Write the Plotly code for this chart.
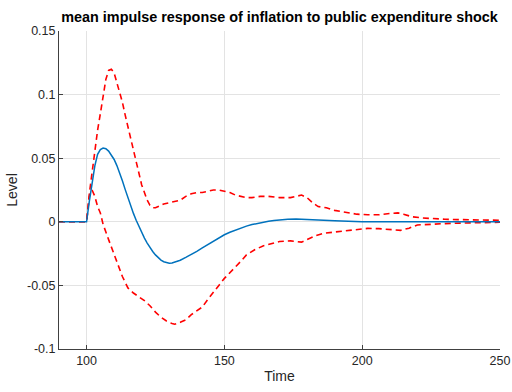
import plotly.graph_objects as go

# Horizon (periods) and impulse responses
time_mean = [90, 100, 101, 102, 103, 104, 105, 106, 107, 108, 109, 110, 111, 112, 113, 114, 115,
             116, 117, 118, 119, 120, 121, 122, 123, 124, 125, 126, 127, 128, 129, 130, 131,
             132, 134, 136, 138, 140, 142, 144, 146, 148, 150, 152, 154, 156, 158, 160, 162,
             164, 166, 168, 170, 173, 176, 179, 182, 186, 190, 195, 200, 250]
mean_irf = [0, 0, 0.016, 0.031, 0.044, 0.053, 0.0568, 0.058, 0.0575, 0.0556, 0.0527, 0.049,
            0.0442, 0.0386, 0.0322, 0.0255, 0.0188, 0.0124, 0.0066, 0.0012, -0.0038, -0.0085,
            -0.0128, -0.0167, -0.0202, -0.0233, -0.026, -0.0283, -0.0301, -0.0314, -0.0322,
            -0.0325, -0.0323, -0.0318, -0.0302, -0.028, -0.0258, -0.0232, -0.0205, -0.0178,
            -0.015, -0.0125, -0.0102, -0.0082, -0.0064, -0.0048, -0.0034, -0.0022, -0.0012,
            -0.0004, 0.0004, 0.001, 0.0015, 0.002, 0.0022, 0.0021, 0.0018, 0.0013, 0.0008,
            0.0003, 0.0, 0.0]

time_upper = [90, 100, 101, 102, 103, 104, 105, 106, 107, 108, 109, 110, 111, 112, 113, 114, 115,
              116, 117, 118, 119, 120, 121, 122, 123, 124, 125, 126, 128, 130, 132, 134, 136,
              138, 140, 142, 144, 146, 148, 150, 152, 154, 156, 158, 160, 163, 166, 170, 174,
              176, 178, 180, 182, 184, 187, 190, 194, 198, 202, 206, 210, 213, 215, 218, 222,
              226, 230, 240, 250]
upper_band = [0, 0, 0.022, 0.04, 0.058, 0.072, 0.085, 0.100, 0.112, 0.119, 0.120, 0.117, 0.110,
              0.102, 0.094, 0.084, 0.075, 0.065, 0.055, 0.046, 0.038, 0.029, 0.023, 0.017,
              0.013, 0.011, 0.011, 0.012, 0.014, 0.015, 0.016, 0.017, 0.020, 0.022, 0.023,
              0.023, 0.024, 0.025, 0.025, 0.024, 0.023, 0.021, 0.020, 0.019, 0.019, 0.020,
              0.020, 0.019, 0.019, 0.020, 0.021, 0.019, 0.015, 0.012, 0.011, 0.009, 0.0075,
              0.006, 0.0055, 0.0055, 0.0065, 0.007, 0.006, 0.004, 0.003, 0.0025, 0.002,
              0.0015, 0.0012]

time_lower = [90, 100, 101, 102, 103, 104, 105, 106, 108, 110, 111, 113, 115, 117, 119, 121, 123,
              125, 127, 129, 131, 132, 134, 136, 138, 140, 142, 144, 146, 148, 150, 152, 154,
              156, 158, 161, 164, 167, 170, 174, 178, 180, 183, 186, 190, 194, 198, 202, 206,
              210, 214, 217, 220, 225, 230, 240, 250]
lower_band = [0, 0, 0.02, 0.025, 0.02, 0.012, 0.007, -0.002, -0.014, -0.026, -0.032, -0.043,
              -0.052, -0.056, -0.059, -0.062, -0.066, -0.071, -0.075, -0.078, -0.080, -0.0805,
              -0.079, -0.077, -0.073, -0.070, -0.067, -0.061, -0.055, -0.050, -0.0445, -0.040,
              -0.036, -0.031, -0.026, -0.022, -0.019, -0.017, -0.0155, -0.015, -0.016, -0.014,
              -0.011, -0.009, -0.008, -0.0067, -0.0058, -0.0052, -0.0054, -0.006, -0.0067,
              -0.005, -0.0025, -0.002, -0.0014, -0.0008, -0.0004]

x_ticks = [100, 150, 200, 250]
y_ticks = [-0.1, -0.05, 0, 0.05, 0.1, 0.15]
y_tick_labels = ["-0.1", "-0.05", "0", "0.05", "0.1", "0.15"]

FONT = "Liberation Sans, Arial, sans-serif"
TEXT_COLOR = "#262626"
AXIS_COLOR = "#404040"
GRID_COLOR = "#e3e3e3"
BAND_LINE = dict(color="#ff0000", width=1.6, dash="6px,4px")

fig = go.Figure()
fig.add_trace(go.Scatter(x=time_upper, y=upper_band, mode="lines", line=BAND_LINE))
fig.add_trace(go.Scatter(x=time_lower, y=lower_band, mode="lines", line=BAND_LINE))
fig.add_trace(go.Scatter(x=time_mean, y=mean_irf, mode="lines",
                         line=dict(color="#0072bd", width=1.5)))

axis_common = dict(
    showline=True, linecolor=AXIS_COLOR, linewidth=1,
    ticks="inside", ticklen=4, tickcolor=AXIS_COLOR, tickwidth=1,
    showgrid=True, gridcolor=GRID_COLOR, gridwidth=1,
    zeroline=False, mirror=False, automargin=False,
    tickfont=dict(family=FONT, size=12.5, color=TEXT_COLOR),
)

fig.update_layout(
    width=512, height=392,
    margin=dict(l=59, r=12, t=31, b=43),
    paper_bgcolor="white", plot_bgcolor="white",
    showlegend=False,
    title=dict(text="<b>mean impulse response of inflation to public expenditure shock</b>",
               x=0.546, xanchor="center", y=0.957, yanchor="middle",
               font=dict(family=FONT, size=14.4, color="black")),
    xaxis=dict(range=[90, 250], tickvals=x_ticks,
               title=dict(text="Time", standoff=4, font=dict(family=FONT, size=14, color=TEXT_COLOR)),
               **axis_common),
    yaxis=dict(range=[-0.1, 0.15], tickvals=y_ticks, ticktext=y_tick_labels,
               title=dict(text="Level", standoff=6, font=dict(family=FONT, size=14, color=TEXT_COLOR)),
               **axis_common),
)

fig.write_html("out.html")
